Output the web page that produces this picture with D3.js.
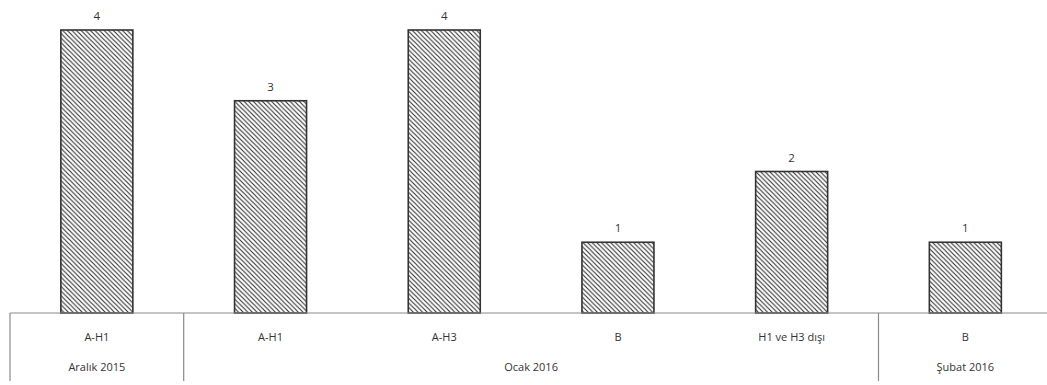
<!DOCTYPE html>
<html><head><meta charset="utf-8">
<script src="https://cdn.jsdelivr.net/npm/d3@7"></script>
<style>body{margin:0;background:#fff}svg{display:block}</style>
</head><body><svg id="c" width="1047" height="385"></svg>
<script>
const categories = ["A-H1","A-H1","A-H3","B","H1 ve H3 dışı","B"];
const groups = ["Aralık 2015","Ocak 2016","Ocak 2016","Ocak 2016","Ocak 2016","Şubat 2016"];
const groupLabels = ["Aralık 2015","Ocak 2016","Şubat 2016"];
const values = [4,3,4,1,2,1];

const svg = d3.select("#c");
const left = 10, bandW = 173.7, baseY = 313, topY = 30;
const idx = d3.range(values.length);
const x = d3.scaleBand().domain(idx).range([left, left + bandW*values.length]).paddingInner(0).paddingOuter(0);
const y = d3.scaleLinear().domain([0,4]).range([baseY, topY]);
const barW = 72;

const defs = svg.append("defs");
const P = 4.6;
const pat = defs.append("pattern").attr("id","hatch").attr("patternUnits","userSpaceOnUse")
  .attr("width",P).attr("height",P);
pat.append("rect").attr("width",P).attr("height",P).attr("fill","#fff");
pat.append("path").attr("d",`M-1,-1 L${P+1},${P+1} M-1,${P-1} L1,${P+1} M${P-1},-1 L${P+1},1`)
  .attr("stroke","#2a2a2a").attr("stroke-width",1.05);

svg.append("g").selectAll("rect").data(idx).join("rect")
  .attr("x", i => x(i) + x.bandwidth()/2 - barW/2)
  .attr("y", i => y(values[i]))
  .attr("width", barW)
  .attr("height", i => baseY - y(values[i]))
  .attr("fill","url(#hatch)")
  .attr("stroke","#333").attr("stroke-width",1.6);

svg.append("g").selectAll("text").data(idx).join("text")
  .attr("x", i => x(i) + x.bandwidth()/2)
  .attr("y", i => y(values[i]) - 10)
  .attr("text-anchor","middle")
  .attr("font-family","Open Sans, sans-serif").attr("font-size",11.5).attr("fill","#333")
  .text(i => values[i]);

// axis line
svg.append("line").attr("x1",left).attr("x2",1047).attr("y1",baseY).attr("y2",baseY)
  .attr("stroke","#8a8a8a").attr("stroke-width",1.2);

// category labels
svg.append("g").selectAll("text").data(idx).join("text")
  .attr("x", i => x(i) + x.bandwidth()/2)
  .attr("y", 341)
  .attr("text-anchor","middle")
  .attr("font-family","Open Sans, sans-serif").attr("font-size",11).attr("fill","#333")
  .text(i => categories[i]);

// group spans
const spans = groupLabels.map(g => {
  const ii = idx.filter(i => groups[i] === g);
  return {g, s: x(d3.min(ii)), e: x(d3.max(ii)) + x.bandwidth()};
});
const seps = [spans[0].s].concat(spans.slice(0,-1).map(d => d.e));
svg.append("g").selectAll("line").data(seps).join("line")
  .attr("x1", d => d).attr("x2", d => d).attr("y1", baseY).attr("y2", 381)
  .attr("stroke","#8a8a8a").attr("stroke-width",1.2);

svg.append("g").selectAll("text").data(spans).join("text")
  .attr("x", d => (d.s + d.e)/2)
  .attr("y", 371)
  .attr("text-anchor","middle")
  .attr("font-family","Open Sans, sans-serif").attr("font-size",11).attr("fill","#333")
  .text(d => d.g);
</script></body></html>
